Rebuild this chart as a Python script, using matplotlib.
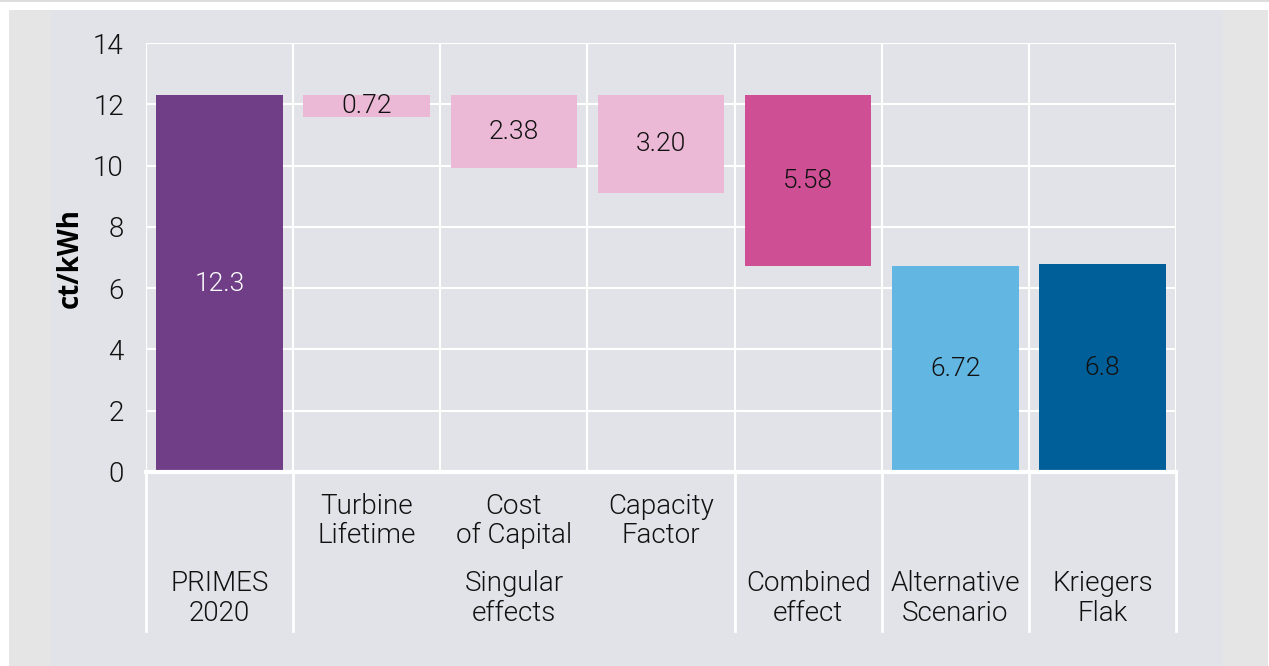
import matplotlib

matplotlib.use("Agg")
import matplotlib.pyplot as plt
from matplotlib.patches import Rectangle

# values (ct/kWh)
primes_2020 = 12.3
singular_effects = [0.72, 2.38, 3.20]
combined_effect = 5.58
alternative = 6.72
kriegers_flak = 6.8

value_labels = ["12.3", "0.72", "2.38", "3.20", "5.58", "6.72", "6.8"]
top_row = ["", "Turbine\nLifetime", "Cost\nof Capital", "Capacity\nFactor", "", "", ""]
bottom_row = ["PRIMES\n2020", "", "Singular\neffects", "", "Combined\neffect",
              "Alternative\nScenario", "Kriegers\nFlak"]
colors = ["#703e87", "#ebb8d5", "#ebb8d5", "#ebb8d5", "#cf4f95", "#62b6e2", "#005f99"]
label_colors = ["white", "#111111", "#111111", "#111111", "#111111", "#111111", "#111111"]

heights = [primes_2020] + singular_effects + [combined_effect, alternative, kriegers_flak]
bottoms = ([0] + [primes_2020 - d for d in singular_effects]
           + [primes_2020 - combined_effect, 0, 0])

PANEL = "#e2e3e8"
SIDE = "#e5e5e5"
FONT = "Roboto"
WEIGHT = 300
W, H = 1269, 666

fig = plt.figure(figsize=(W / 100, H / 100), dpi=100)
fig.patch.set_facecolor("white")


def px_rect(x0, y0, x1, y1, color):
    # pixel box, origin top-left
    fig.patches.append(Rectangle((x0 / W, 1 - y1 / H), (x1 - x0) / W, (y1 - y0) / H,
                                 transform=fig.transFigure, color=color, zorder=-1, lw=0))


px_rect(0, 0, W, 2, "#dcdcdc")
px_rect(9, 10, 1268, H, PANEL)
px_rect(9, 10, 51, H, SIDE)
px_rect(1223, 10, 1268, H, SIDE)

ax = fig.add_axes([146 / W, 1 - 472 / H, (1176 - 146) / W, (472 - 43) / H])
ax.set_facecolor("none")
ax.set_zorder(2)

x = list(range(len(heights)))
ax.bar(x, heights, bottom=bottoms, width=0.86, color=colors, zorder=3)

for xi, h, b, lab, c in zip(x, heights, bottoms, value_labels, label_colors):
    ax.text(xi, b + h / 2, lab, ha="center", va="center", color=c,
            fontsize=19, family=FONT, fontweight=WEIGHT, zorder=4)

ax.set_xlim(-0.5, 6.5)
ax.set_ylim(0, 14)
ax.set_yticks(range(0, 15, 2))
ax.set_xticks([])
ax.tick_params(axis="y", length=0, pad=16, labelsize=20, labelcolor="#111111")
for t in ax.get_yticklabels():
    t.set_family(FONT)
    t.set_fontweight(WEIGHT)
ax.set_ylabel("ct/kWh", fontsize=20, fontweight="bold", family="Open Sans", labelpad=6)

for s in ax.spines.values():
    s.set_visible(False)

# white grid
for yv in range(2, 15, 2):
    ax.axhline(yv, color="white", lw=1.5, zorder=1)
ax.axhline(0, color="white", lw=3, zorder=5, clip_on=False)
for xb in [i - 0.5 for i in range(8)]:
    ax.axvline(xb, color="white", lw=1.5, zorder=1)

# category label area below the axis
label_bottom = -5.19
for xb in [-0.5, 0.5, 3.5, 4.5, 5.5, 6.5]:
    ax.plot([xb, xb], [0, label_bottom], color="white", lw=2, clip_on=False, zorder=1)

for row, yc in ((top_row, -1.6), (bottom_row, -4.13)):
    for xi, t in zip(x, row):
        if t:
            ax.text(xi, yc, t, ha="center", va="center", fontsize=20, family=FONT,
                    fontweight=WEIGHT, color="#111111", linespacing=1.12, clip_on=False)

fig.savefig("out.png", dpi=100)
